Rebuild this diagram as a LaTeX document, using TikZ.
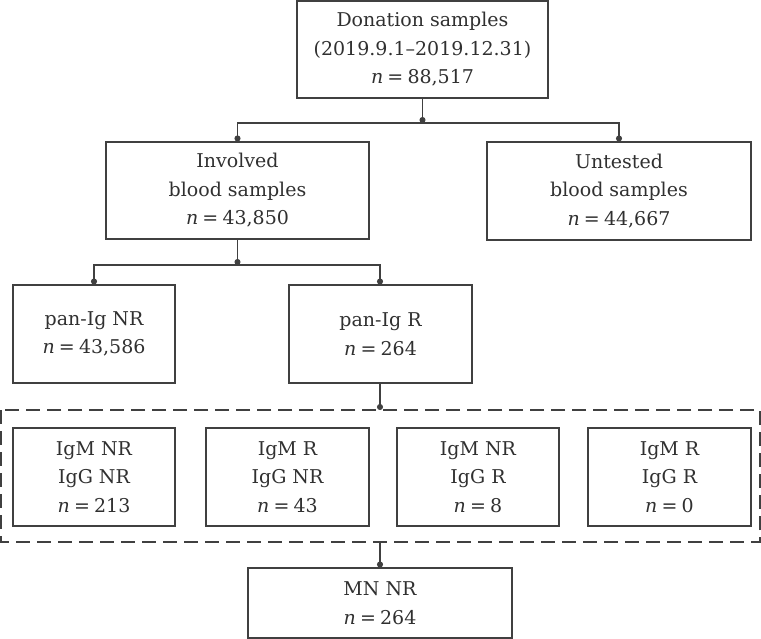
\documentclass[tikz,border=0pt]{standalone}
\usepackage{fontspec}
\setmainfont{DejaVu Serif}
\usepackage{xcolor}
\usetikzlibrary{arrows.meta}
\definecolor{linegray}{HTML}{404040}
\definecolor{textgray}{HTML}{303030}
\newcommand{\nval}[1]{\textit{n}\hspace{0.22em}=\hspace{0.22em}#1}
\tikzstyle{box} = [rectangle, draw=linegray, line width=1.1pt, text=textgray, align=center, inner sep=0pt, font=\fontsize{19}{28.5}\selectfont]
\tikzstyle{arrow} = [draw=linegray, line width=1.1pt, -{Circle[length=6pt]}]
\tikzstyle{group} = [draw=linegray, line width=1.1pt, dash pattern=on 14pt off 7pt]

\begin{document}
\begin{tikzpicture}[x=1pt, y=-1pt]
\useasboundingbox (0,0) rectangle (761,638);

\node (donation) [box, minimum width=251pt, minimum height=97pt] at (422.5,49.5) {Donation samples\\(2019.9.1--2019.12.31)\\\nval{88,517}};
\node (involved) [box, minimum width=263pt, minimum height=97pt] at (237.5,190.5) {Involved\\blood samples\\\nval{43,850}};
\node (untested) [box, minimum width=264pt, minimum height=98pt] at (619,191) {Untested\\blood samples\\\nval{44,667}};
\node (pannr) [box, minimum width=162pt, minimum height=98pt] at (94,334) {pan-Ig NR\\\nval{43,586}};
\node (panr) [box, minimum width=183pt, minimum height=98pt] at (380.5,334) {pan-Ig R\\\nval{264}};

\node (g1) [box, minimum width=162pt, minimum height=98pt] at (94,477) {IgM NR\\IgG NR\\\nval{213}};
\node (g2) [box, minimum width=163pt, minimum height=98pt] at (287.5,477) {IgM R\\IgG NR\\\nval{43}};
\node (g3) [box, minimum width=162pt, minimum height=98pt] at (478,477) {IgM NR\\IgG R\\\nval{8}};
\node (g4) [box, minimum width=163pt, minimum height=98pt] at (669.5,477) {IgM R\\IgG R\\\nval{0}};
\node (mn) [box, minimum width=264pt, minimum height=70pt] at (380,603) {MN NR\\\nval{264}};

% dashed frame round the four antibody groups
\draw [group] (1,410) rectangle (760,542);

\coordinate (j1) at (422.5,123);
\coordinate (j2) at (237.5,265);
\coordinate (j3) at (380,410);
\coordinate (j4) at (380,542);

\draw [arrow] (donation) -- (j1);
\draw [arrow] (j1) -| (involved);
\draw [arrow] (j1) -| (untested);
\draw [arrow] (involved) -- (j2);
\draw [arrow] (j2) -| (pannr);
\draw [arrow] (j2) -| (panr.north -| j3);
\draw [arrow] (panr.south -| j3) -- (j3);
\draw [arrow] (j4) -- (mn);

\end{tikzpicture}
\end{document}
